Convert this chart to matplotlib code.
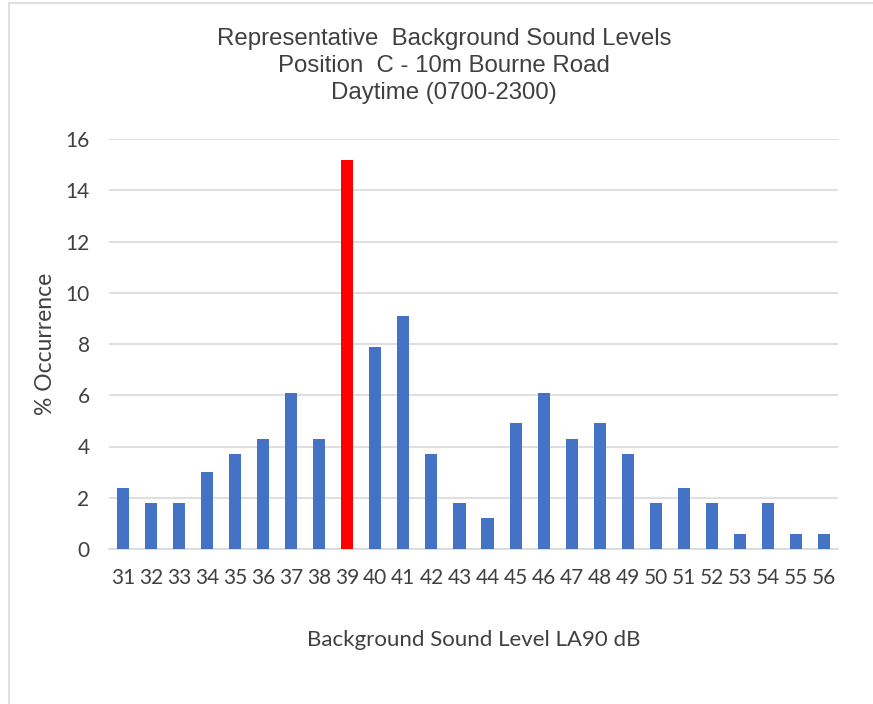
import matplotlib
matplotlib.use('Agg')
import matplotlib.pyplot as plt
from matplotlib.patches import Rectangle

# Data
levels = ['31', '32', '33', '34', '35', '36', '37', '38', '39', '40', '41', '42', '43',
          '44', '45', '46', '47', '48', '49', '50', '51', '52', '53', '54', '55', '56']
occurrence = [2.4, 1.8, 1.8, 3.0, 3.7, 4.3, 6.1, 4.3, 15.2, 7.9, 9.1, 3.7, 1.8,
              1.2, 4.9, 6.1, 4.3, 4.9, 3.7, 1.8, 2.4, 1.8, 0.6, 1.8, 0.6, 0.6]
highlight = '39'

colors = ['#FF0000' if lv == highlight else '#4472C4' for lv in levels]

fig = plt.figure(figsize=(8.73, 7.04), dpi=100)
ax = fig.add_axes([109 / 873, 1 - 549 / 704, (838 - 109) / 873, (549 - 139) / 704])

x = range(len(levels))
ax.bar(x, occurrence, width=0.43, color=colors, zorder=3)

ax.set_xlim(-0.5, len(levels) - 0.5)
ax.set_ylim(0, 16)
ax.set_yticks(range(0, 17, 2))
ax.set_xticks(list(x))
ax.set_xticklabels(levels)
ax.tick_params(axis='both', length=0, labelsize=15, colors='#404040')
ax.tick_params(axis='x', pad=14)
ax.tick_params(axis='y', pad=14)
for lab in ax.get_xticklabels() + ax.get_yticklabels():
    lab.set_family('Lato')

ax.grid(axis='y', color='#D9D9D9', linewidth=1.2, zorder=0)
for side in ['top', 'right', 'left']:
    ax.spines[side].set_visible(False)
ax.spines['bottom'].set_color('#D9D9D9')
ax.spines['bottom'].set_linewidth(1.2)

ax.set_xlabel('Background Sound Level LA90 dB', fontsize=16, family='Lato',
              color='#404040', labelpad=30)
ax.set_ylabel('% Occurrence', fontsize=16.5, family='Lato', color='#404040', labelpad=7)

fig.text(444 / 873, 1 - 66 / 704,
         'Representative  Background Sound Levels\nPosition  C - 10m Bourne Road\nDaytime (0700-2300)',
         ha='center', va='center', fontsize=17.3, family='Liberation Sans',
         color='#404040', linespacing=1.3)

# chart border
fig.patches.append(Rectangle((9 / 873, -0.1), 1.2, 1 - 3 / 704 + 0.1,
                             transform=fig.transFigure, fill=False,
                             edgecolor='#D9D9D9', linewidth=1.2))

fig.savefig('out.png', dpi=100)
